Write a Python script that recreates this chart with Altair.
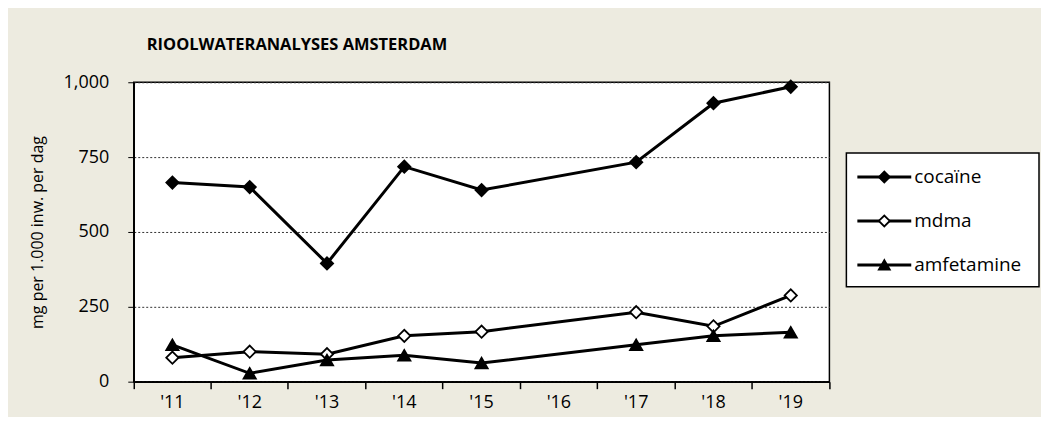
import altair as alt
import pandas as pd

years = ["'11", "'12", "'13", "'14", "'15", "'16", "'17", "'18", "'19"]
data_years = ["'11", "'12", "'13", "'14", "'15", "'17", "'18", "'19"]
series = ["cocaïne", "mdma", "amfetamine"]
cocaine = [665, 650, 395, 718, 640, 733, 930, 985]
mdma = [80, 100, 92, 153, 167, 232, 185, 288]
amfetamine = [123, 28, 72, 88, 62, 123, 153, 165]
y_ticks = [0, 250, 500, 750, 1000]

rows = []
for name, vals in zip(series, [cocaine, mdma, amfetamine]):
    for yr, v in zip(data_years, vals):
        rows.append({"jaar": yr, "waarde": v, "reeks": name})
df = pd.DataFrame(rows)

FONT = "Open Sans"
W, H = 697, 300

shape_scale = alt.Scale(domain=series, range=["diamond", "diamond", "triangle-up"])
fill_scale = alt.Scale(domain=series, range=["black", "white", "black"])

x_enc = alt.X(
    "jaar:O",
    scale=alt.Scale(type="band", domain=years, paddingInner=0, paddingOuter=0),
    bandPosition=0.5,
    axis=alt.Axis(
        title=None, bandPosition=1, tickExtra=True, labelOffset=0,
        labelFont=FONT, labelFontSize=18, labelColor="black", labelPadding=5,
        tickSize=7, tickColor="black", tickWidth=1.5,
        domainColor="black", domainWidth=1.5, labelAngle=0,
    ),
)
y_enc = alt.Y(
    "waarde:Q",
    scale=alt.Scale(domain=[0, 1000], nice=False),
    axis=alt.Axis(
        values=y_ticks, format=",.0f", title="mg per 1.000 inw. per dag",
        titleFont=FONT, titleFontSize=16, titleFontWeight="normal", titleColor="black",
        titlePadding=18,
        labelFont=FONT, labelFontSize=18, labelColor="black", labelPadding=19,
        tickSize=6, tickColor="black", tickWidth=1,
        domainColor="black", domainWidth=1.5,
        grid=True, gridDash=[2, 2], gridColor="#333333", gridWidth=1,
    ),
)

lines = alt.Chart(df).mark_line(color="black", strokeWidth=3).encode(
    x=x_enc, y=y_enc, detail="reeks:N"
)
points = alt.Chart(df).mark_point(size=150, opacity=1, stroke="black", strokeWidth=1.8).encode(
    x=x_enc, y=y_enc,
    shape=alt.Shape("reeks:N", scale=shape_scale, legend=None),
    fill=alt.Fill("reeks:N", scale=fill_scale, legend=None),
)

main = alt.layer(lines, points).properties(
    width=W, height=H,
    view=alt.ViewBackground(fill="white", stroke="black", strokeWidth=1.5),
    title=alt.Title(
        "RIOOLWATERANALYSES AMSTERDAM", anchor="start", frame="group", dx=13,
        fontSize=16.5, fontWeight="bold", font=FONT, color="black", offset=20,
    ),
)

leg_df = pd.DataFrame({"reeks": series})
ly = alt.Y("reeks:N", scale=alt.Scale(type="point", domain=series, range=[95, 183], padding=0), axis=None)
box = alt.Chart(pd.DataFrame({"a": [0]})).mark_rect(fill="white", stroke="black", strokeWidth=1.5).encode(
    x=alt.value(1), x2=alt.value(194), y=alt.value(71), y2=alt.value(205)
)
leg_rules = alt.Chart(leg_df).mark_rule(color="black", strokeWidth=3).encode(
    x=alt.value(12), x2=alt.value(66), y=ly
)
leg_pts = alt.Chart(leg_df).mark_point(size=120, opacity=1, stroke="black", strokeWidth=1.8).encode(
    x=alt.value(39), y=ly,
    shape=alt.Shape("reeks:N", scale=shape_scale, legend=None),
    fill=alt.Fill("reeks:N", scale=fill_scale, legend=None),
)
leg_txt = alt.Chart(leg_df).mark_text(align="left", baseline="middle", font=FONT, fontSize=19, color="black").encode(
    x=alt.value(69), y=ly, text="reeks:N"
)
legend = alt.layer(box, leg_rules, leg_pts, leg_txt).properties(width=196, height=H)

chart = alt.hconcat(main, legend, spacing=14).properties(
    background="#EDEBE0",
    padding={"left": 20, "top": 27, "right": 0, "bottom": 4},
).configure_view(strokeWidth=0)

chart.save("out.html", embed_options={"renderer": "svg", "actions": False})
